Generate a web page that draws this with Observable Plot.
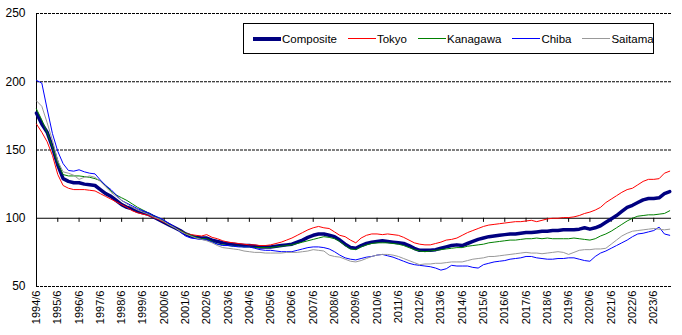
<!DOCTYPE html>
<html>
<head>
<meta charset="utf-8">
<script src="https://cdn.jsdelivr.net/npm/d3@7"></script>
<script src="https://cdn.jsdelivr.net/npm/@observablehq/plot@0.6"></script>
<style>
  html, body { margin: 0; padding: 0; background: #fff; }
  #wrap { position: relative; width: 682px; height: 335px; font-family: "Liberation Sans", Arial, sans-serif; }
  #legend { position: absolute; left: 243px; top: 23px; width: 411px; height: 31px; box-sizing: border-box;
            border: 1px solid #000; background: #fff; display: flex; align-items: center; padding-left: 9px;
            font-size: 11.5px; color: #000; }
  .item { display: flex; align-items: center; margin-right: 11px; }
  .sw { width: 28px; margin-right: 1px; }
</style>
</head>
<body>
<div id="wrap"><div id="legend"></div></div>
<script>
// Quarterly readings, starting 1994/6 (every 3 months through 2024/3)
const seriesNames = ["Composite", "Tokyo", "Kanagawa", "Chiba", "Saitama"];

const composite = [
  177,169,163,152,139,129,127,126,126,125,124.5,124,
  121,118,116,113,110,108,107,105,104,103,101,99,
  97,95,93,91,88.5,87,86,85.5,85.5,84,83,82,
  81.5,81,80.5,80,80,79.5,79,79,79,79.5,80,80.5,
  81,82.5,84,86,87.5,88.5,88.5,87.5,86.5,84,81,78.5,
  78,80,81.5,82.5,83,83.5,83,82.5,82,81.5,80,78,
  76.5,76.5,76.5,77,78,79,80,80.5,80,81.5,83,84.5,
  85.5,86.5,87,87.5,88,88.5,88.5,89,89.5,89.5,90,90.5,
  90.5,91,91,91.5,91.5,91.5,92,93,92,93,94.5,97,
  99.5,102,105,108,109.5,111.5,113.5,114.5,114.5,115,118,119.5
];
const tokyo = [
  169,163,156,146,132,124,122,121,121,121,120.5,120,
  118,116,114,112,110,108,105.5,104,103,102,100.5,99,
  97,95,93,91,89,88,87.5,87,88,86,85,83.5,
  82.5,82,81.5,81,80.5,80.5,80,80,80.5,81.5,82.5,84,
  85.5,87.5,89.5,91.5,93,94,93,92.5,90,87.5,86.5,84,
  82,85.5,87.5,88.5,88.5,88,88.5,88,87.5,86,84,82,
  81,80.5,80.5,81.5,82.5,84,84.5,85.5,87.5,89.5,91,92.5,
  94,95,95.5,96,96.5,97,97.5,97.5,98,98.5,97.5,98.5,
  99.5,100,100,100.5,100.5,101,102,103.5,104.5,106,108,111.5,
  114,116.5,119,121,122,124.5,127,128.5,128.5,129,133,134.5
];
const kanagawa = [
  180,172,163,152,140,132,131,131,131,130.5,130,129,
  127.5,124,120,117,115,113,110.5,108,106,104,102,100,
  97.5,95,93,91,89,87.5,86,85,85,83,81,80.5,
  80,79.5,79.5,79,79,78.5,78.5,78.5,78.5,79,79.5,80,
  80.5,81.5,82.5,83.5,84.5,85.5,86.5,86,85,83,80,77.5,
  77,79,80.5,81.5,82,82,82,81.5,81,80,78.5,77,
  76,75.5,76,76.5,77,77.5,78,78.5,78.5,79.5,80,80.5,
  81,82,82.5,83,83.5,84,84,84.5,85,85,85.5,85,
  85.5,85,85,85,85,85.5,85,84.5,84,85,87,88.5,
  90.5,93,95.5,98,100,101.5,102,102.5,102.5,103,103.5,105.5
];
const chiba = [
  201,199,180,162,149,140,135,134.5,135.5,134,133,132.5,
  128,124,121,117,113,111,109,107,105.5,104,102,100.5,
  98.5,96,93.5,90,87,85.5,85,84.5,84,82.5,81,80,
  80,79.5,79,79,79,78,77,76.5,76.5,76,75.5,75.5,
  75.5,76.5,77.5,78.5,79,79,78.5,77.5,75.5,73,71,70,
  69.5,70.5,71.5,72,73,73.5,72.5,71.5,70,68.5,67,66,
  65.5,65,64.5,63.5,62,63,65.5,65,65,65,64,63.5,
  66,67,68,68.5,69,70,70.5,71,72,72,71,70.5,
  70,70,70.5,70.5,71,71,70,69,68.5,72,74.5,76,
  78,80,82,84,86.5,88.5,89,90,91,93.5,88.5,87.5
];
const saitama = [
  186,182,170,157,142,134,133,131.5,128.5,130,131,130,
  127,123,119,116,113,110.5,108,106,104.5,103,101,99.5,
  97.5,95,93,90.5,88.5,87,85.5,84.5,83.5,82,80,78.5,
  78,77.5,77,76,75.5,75,75,74.5,74.5,74.5,74.5,75,
  75,75,75.5,76,77,76.5,76,73,72,71.5,70,68.5,
  68,69,70.5,72,73,73.5,73.5,73,72,70.5,69,67.5,
  66,66.5,66.5,67,67,67.5,68,68,68,69,70,70.5,
  71,72,72,72.5,73,73.5,74,74.5,75,74.5,74.5,74,
  74.5,75,75.5,75,73.5,75,76.5,77,77,77.5,77.5,78,
  81,84,87,89,90.5,91,91.5,92,92.5,92,91.5,92
];
const seriesValues = [composite, tokyo, kanagawa, chiba, saitama];

const xTickLabels = ["1994/6","1995/6","1996/6","1997/6","1998/6","1999/6","2000/6","2001/6","2002/6","2003/6",
  "2004/6","2005/6","2006/6","2007/6","2008/6","2009/6","2010/6","2011/6","2012/6","2013/6",
  "2014/6","2015/6","2016/6","2017/6","2018/6","2019/6","2020/6","2021/6","2022/6","2023/6"];
const yTicks = [50, 100, 150, 200, 250];

// styles
const seriesColors = ["#000080", "#ff0000", "#008000", "#0000ff", "#999999"];
const seriesWidths = [3.5, 1, 1, 1, 1];

// month index since 1994/6
const xTickPositions = xTickLabels.map((_, i) => i * 12);
const tables = seriesValues.map((vals, s) => vals.map((v, i) => ({m: i * 3, value: v, series: seriesNames[s]})));

const chart = Plot.plot({
  width: 682,
  height: 335,
  marginLeft: 36,
  marginRight: 11,
  marginTop: 13,
  marginBottom: 49,
  style: {fontFamily: "'Liberation Sans', Arial, sans-serif", background: "#fff", color: "#000"},
  x: {domain: [0, 358], label: null},
  y: {domain: [50, 250], label: null},
  marks: [
    Plot.ruleY(yTicks.filter(v => v !== 100), {stroke: "#000", strokeWidth: 1, strokeDasharray: "3,1"}),
    Plot.ruleY([100], {stroke: "#000", strokeWidth: 1}),
    Plot.ruleX([0], {stroke: "#000", strokeWidth: 1}),
    Plot.ruleX(xTickPositions, {y1: 100, y2: 97, stroke: "#000", strokeWidth: 1}),
    ...tables.map((t, s) => Plot.line(t, {x: "m", y: "value", stroke: seriesColors[s], strokeWidth: seriesWidths[s], strokeLinejoin: "round"})),
    Plot.axisY({ticks: yTicks, tickSize: 0, tickPadding: 11, fontSize: 12, label: null}),
    Plot.axisX({ticks: xTickPositions, tickFormat: d => xTickLabels[Math.round(d / 12)], tickRotate: -90, tickSize: 0, tickPadding: 4, fontSize: 11, label: null})
  ]
});
const wrap = document.getElementById("wrap");
wrap.insertBefore(chart, wrap.firstChild);

const legend = document.getElementById("legend");
seriesNames.forEach((name, s) => {
  const item = document.createElement("div");
  item.className = "item";
  const sw = document.createElement("div");
  sw.className = "sw";
  sw.style.height = seriesWidths[s] > 1 ? "4px" : "1px";
  sw.style.background = seriesColors[s];
  const lab = document.createElement("span");
  lab.textContent = name;
  item.appendChild(sw);
  item.appendChild(lab);
  legend.appendChild(item);
});
</script>
</body>
</html>
